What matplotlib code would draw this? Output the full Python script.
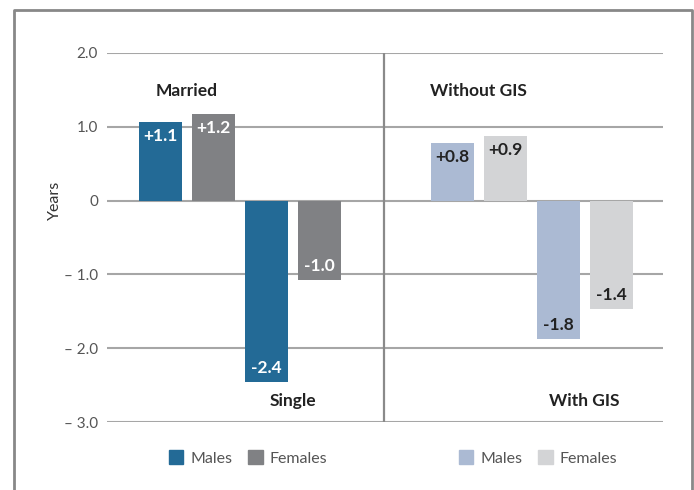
import matplotlib.pyplot as plt
from matplotlib.lines import Line2D
from matplotlib.patches import Patch

plt.rcParams['font.family'] = ['Lato', 'DejaVu Sans']

# data
groups = ['Married', 'Single', 'Without GIS', 'With GIS']
male_vals = [1.07, -2.46, 0.78, -1.88]
female_vals = [1.17, -1.07, 0.88, -1.47]
male_labels = ['+1.1', '-2.4', '+0.8', '-1.8']
female_labels = ['+1.2', '-1.0', '+0.9', '-1.4']
yticks = [2, 1, 0, -1, -2, -3]
ytick_labels = ['2.0', '1.0', '0', '\u2013 1.0', '\u2013 2.0', '\u2013 3.0']

# colours: first two groups dark, last two light
male_cols = ['#236a96', '#236a96', '#abbad3', '#abbad3']
female_cols = ['#808184', '#808184', '#d3d4d6', '#d3d4d6']
text_cols = ['white', 'white', '#222222', '#222222']

# x positions of bars (male / female for each group)
male_x = [0, 2, 5.5, 7.5]
female_x = [1, 3, 6.5, 8.5]
divider_x = 4.22
w = 0.81

fig = plt.figure(figsize=(6.94, 4.9), dpi=100)
ax = fig.add_axes([107/694, 68/490, 556/694, 369/490])
ax.set_xlim(-1.01, 9.48)
ax.set_ylim(-3, 2)

grid_c = '#a6a6a6'
for t in yticks:
    ax.axhline(t, color=grid_c, lw=1.5, zorder=1)
ax.plot([divider_x, divider_x], [-3, 2], color='#8a8a8a', lw=1.6, zorder=1)

bm = ax.bar(male_x, male_vals, width=w, color=male_cols, zorder=2)
bf = ax.bar(female_x, female_vals, width=w, color=female_cols, zorder=2)

for i in range(len(groups)):
    for x, v, lab in [(male_x[i], male_vals[i], male_labels[i]),
                      (female_x[i], female_vals[i], female_labels[i])]:
        off = -10 if v > 0 else 10
        ax.annotate(lab, (x, v), xytext=(0, off), textcoords='offset points',
                    ha='center', va='center', fontsize=12.5, fontweight='bold',
                    color=text_cols[i], zorder=3)

# group titles
title_pos = [(0.5, 1.49), (2.5, -2.72), (6.0, 1.49), (8.0, -2.72)]
for g, (x, y) in zip(groups, title_pos):
    ax.text(x, y, g, ha='center', va='center', fontsize=12.5,
            fontweight='bold', color='#222222')

ax.set_yticks(yticks)
ax.set_yticklabels(ytick_labels, fontsize=11, color='#555555')
ax.tick_params(axis='y', length=0, pad=6.5)
ax.set_xticks([])
for s in ax.spines.values():
    s.set_visible(False)

fig.text(55/694, (490-200)/490, 'Years', rotation=90, ha='center', va='center',
         fontsize=11.5, color='#333333')

# legends
leg_kw = dict(frameon=False, ncol=2, loc='center', fontsize=11.5,
              handlelength=0.9, handleheight=0.9, handletextpad=0.45,
              columnspacing=1.0, borderpad=0, labelcolor='#555555')
leg1 = fig.legend(handles=[Patch(color=male_cols[0]), Patch(color=female_cols[0])],
                  labels=['Males', 'Females'],
                  bbox_to_anchor=(248/694, (490-458)/490), **leg_kw)
leg2 = fig.legend(handles=[Patch(color=male_cols[2]), Patch(color=female_cols[2])],
                  labels=['Males', 'Females'],
                  bbox_to_anchor=(538/694, (490-458)/490), **leg_kw)

# outer frame (left, top, right)
fx = [13.5/694, 13.5/694, 691.5/694, 691.5/694]
fy = [0, (490-10.5)/490, (490-10.5)/490, 0]
fig.add_artist(Line2D(fx, fy, color='#888888', lw=2, transform=fig.transFigure))

fig.savefig('out.png', dpi=100)
